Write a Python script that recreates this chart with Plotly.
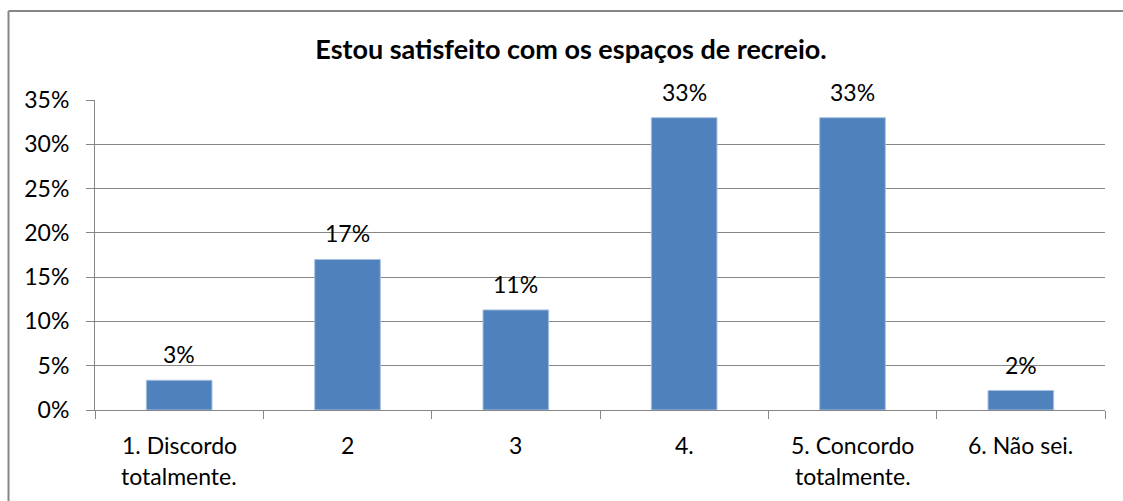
import plotly.graph_objects as go

categories = ["1. Discordo totalmente.", "2", "3", "4.", "5. Concordo totalmente.", "6. Não sei."]
label_line1 = ["1. Discordo", "2", "3", "4.", "5. Concordo", "6. Não sei."]
label_line2 = ["totalmente.", "", "", "", "totalmente.", ""]
values = [3.36, 17.0, 11.3, 33.0, 33.0, 2.2]
y_ticks = [0, 5, 10, 15, 20, 25, 30, 35]
y_ticktext = ["0%", "5%", "10%", "15%", "20%", "25%", "30%", "35%"]

FONT = "Lato"
FS = 23
GRID = "#868686"

W, H = 1123, 501
L, R, T, B = 95, 18, 100, 91
PW, PH = W - L - R, H - T - B

fig = go.Figure()
fig.add_trace(go.Bar(
    x=categories, y=values,
    marker=dict(color="#4F81BD", line=dict(color="#A9C1E0", width=1)),
    width=0.39,
    hoverinfo="skip",
))

annotations = []
for i, v in enumerate(values):
    annotations.append(dict(
        x=i, y=v, xref="x", yref="y", text=f"{round(v)}%",
        showarrow=False, yanchor="middle", yshift=26,
        font=dict(family=FONT, size=FS, color="#000000"),
    ))
for i, (l1, l2) in enumerate(zip(label_line1, label_line2)):
    annotations.append(dict(
        x=i, y=0, xref="x", yref="paper", text=l1,
        showarrow=False, yanchor="middle", yshift=-35,
        font=dict(family=FONT, size=FS, color="#000000"),
    ))
    if l2:
        annotations.append(dict(
            x=i, y=0, xref="x", yref="paper", text=l2,
            showarrow=False, yanchor="middle", yshift=-66,
            font=dict(family=FONT, size=FS, color="#000000"),
        ))

fx0 = (8.5 - L) / PW
fy_top = 1 + (T - 11.0) / PH
fy_bot = -(B + 5) / PH
fx_right = (W + 5 - L) / PW

fig.update_layout(
    width=W, height=H,
    margin=dict(l=L, r=R, t=T, b=B, pad=0),
    paper_bgcolor="white", plot_bgcolor="white",
    showlegend=False,
    title=dict(
        text="<b>Estou satisfeito com os espaços de recreio.</b>",
        x=571 / W, xref="container", xanchor="center",
        y=1 - 50 / H, yref="container", yanchor="middle",
        font=dict(family=FONT, size=27, color="#000000"),
    ),
    xaxis=dict(
        type="category", showticklabels=False,
        showline=True, linecolor=GRID, linewidth=1,
        ticks="outside", tickson="boundaries", ticklen=8, tickcolor=GRID,
        showgrid=False, zeroline=False,
    ),
    yaxis=dict(
        range=[0, 35], tickvals=y_ticks, ticktext=y_ticktext,
        showline=True, linecolor=GRID, linewidth=1,
        ticks="outside", ticklen=8, tickcolor=GRID,
        showgrid=True, gridcolor=GRID, gridwidth=1, zeroline=False,
        tickfont=dict(family=FONT, size=FS, color="#000000"),
        ticklabelstandoff=12,
    ),
    annotations=annotations,
    shapes=[
        dict(type="line", xref="paper", yref="paper",
             x0=fx0, x1=fx0, y0=fy_top, y1=fy_bot,
             line=dict(color=GRID, width=2), layer="below"),
        dict(type="line", xref="paper", yref="paper",
             x0=fx0, x1=fx_right, y0=fy_top, y1=fy_top,
             line=dict(color=GRID, width=2), layer="below"),
    ],
)

fig.write_html(
    "out.html",
    config={"displayModeBar": False},
    post_script="document.body.style.margin='0';document.body.style.overflow='hidden';",
)
